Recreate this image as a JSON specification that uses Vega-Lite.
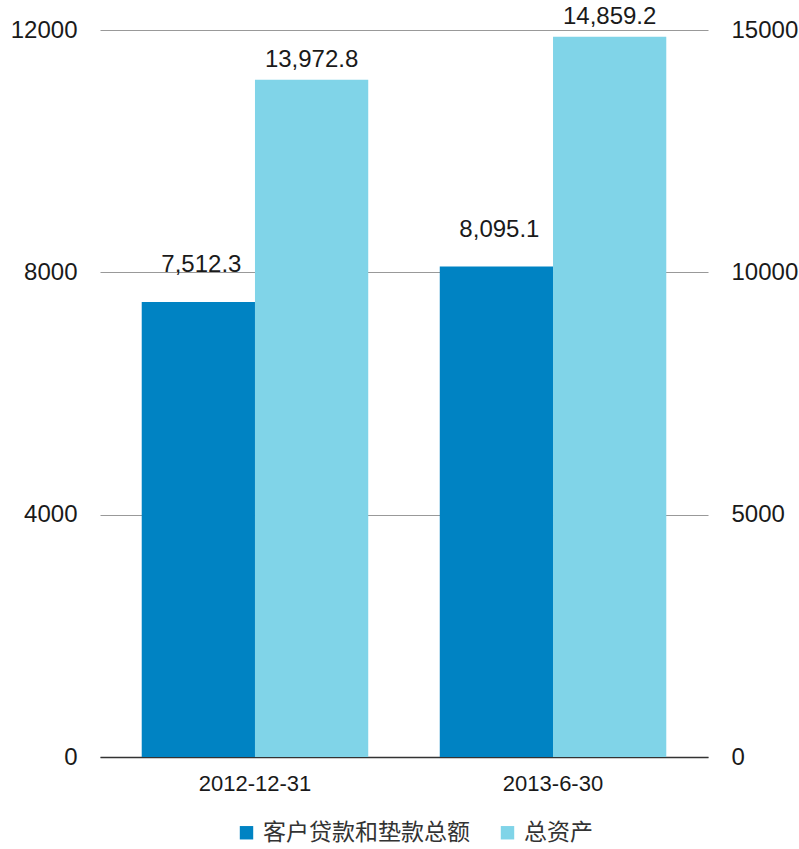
{
  "$schema": "https://vega.github.io/schema/vega-lite/v6.json",
  "width": 608,
  "height": 727,
  "autosize": {"type": "none"},
  "padding": {"left": 100, "top": 30, "right": 91, "bottom": 92},
  "background": "white",
  "config": {
    "view": {"stroke": null},
    "font": "Liberation Sans",
    "axis": {"labelFont": "Liberation Sans", "labelFontSize": 24, "labelColor": "#1a1a1a", "ticks": false, "domain": false, "title": null}
  },
  "data": {
    "values": [
      {"date": "2012-12-31", "series": "客户贷款和垫款总额", "value": 7512.3},
      {"date": "2012-12-31", "series": "总资产", "value": 13972.8},
      {"date": "2013-6-30", "series": "客户贷款和垫款总额", "value": 8095.1},
      {"date": "2013-6-30", "series": "总资产", "value": 14859.2}
    ]
  },
  "encoding": {
    "x": {
      "field": "date", "type": "nominal", "sort": ["2012-12-31", "2013-6-30"],
      "scale": {"paddingInner": 0.24, "paddingOuter": 0.14},
      "axis": {"labelAngle": 0, "domain": true, "domainColor": "#333333", "domainWidth": 1.5, "labelPadding": 16, "labelFontSize": 22, "grid": false}
    },
    "xOffset": {
      "field": "series", "type": "nominal",
      "scale": {"domain": ["客户贷款和垫款总额", "总资产"], "paddingInner": 0}
    },
    "color": {
      "field": "series", "type": "nominal",
      "scale": {"domain": ["客户贷款和垫款总额", "总资产"], "range": ["#0083C3", "#80D4E8"]},
      "legend": {
        "title": null, "orient": "none", "direction": "horizontal",
        "legendX": 135, "legendY": 791,
        "symbolType": "square", "symbolSize": 180, "symbolStrokeWidth": 0,
        "labelFont": "Noto Sans CJK SC", "labelFontSize": 23, "labelColor": "#333333", "labelLimit": 0,
        "columnPadding": 26, "labelOffset": 5
      }
    }
  },
  "layer": [
    {
      "transform": [{"filter": "datum.series === '客户贷款和垫款总额'"}],
      "encoding": {
        "y": {
          "field": "value", "type": "quantitative",
          "scale": {"domain": [0, 12000], "nice": false},
          "axis": {"orient": "left", "values": [0, 4000, 8000, 12000], "format": "d", "grid": true, "gridColor": "#999999", "gridWidth": 1, "labelPadding": 23}
        }
      },
      "layer": [
        {"mark": {"type": "bar"}},
        {"mark": {"type": "text", "baseline": "alphabetic", "dy": -30, "dx": 3, "fontSize": 24, "color": "#1a1a1a"},
         "encoding": {"text": {"field": "value", "type": "quantitative", "format": ",.1f"}, "color": {"value": "#1a1a1a"}}}
      ]
    },
    {
      "transform": [{"filter": "datum.series === '总资产'"}],
      "encoding": {
        "y": {
          "field": "value", "type": "quantitative",
          "scale": {"domain": [0, 15000], "nice": false},
          "axis": {"orient": "right", "values": [0, 5000, 10000, 15000], "format": "d", "grid": false, "labelPadding": 23}
        }
      },
      "layer": [
        {"mark": {"type": "bar"}},
        {"mark": {"type": "text", "baseline": "alphabetic", "dy": -13, "fontSize": 24, "color": "#1a1a1a"},
         "encoding": {"text": {"field": "value", "type": "quantitative", "format": ",.1f"}, "color": {"value": "#1a1a1a"}}}
      ]
    }
  ],
  "resolve": {"scale": {"y": "independent"}}
}
